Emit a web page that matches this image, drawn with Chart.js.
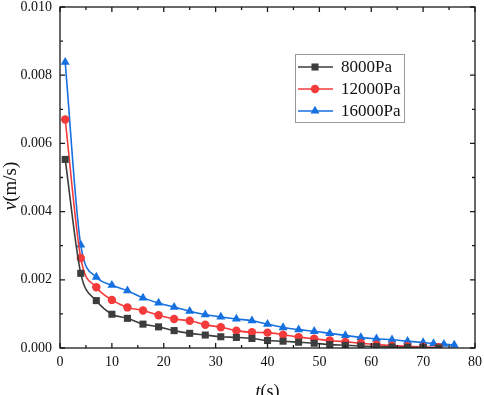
<!DOCTYPE html>
<html><head><meta charset="utf-8">
<script src="https://cdn.jsdelivr.net/npm/chart.js@4.4.0/dist/chart.umd.min.js"></script>
<style>html,body{margin:0;padding:0;background:#fff}#wrap{width:484px;height:395px}</style>
</head><body><div id="wrap"><canvas id="c" width="484" height="395"></canvas></div>
<script>
const seriesNames = ['8000Pa', '12000Pa', '16000Pa'];
const tBlack = [1,4,7,10,13,16,19,22,25,28,31,34,37,40,43,46,49,52,55,58,61,64,67,70,73];
const vBlack = [0.00553,0.00219,0.00139,0.00099,0.00087,0.00070,0.00062,0.00051,0.00043,0.00038,0.00033,0.00031,0.00028,0.00022,0.00020,0.00017,0.00014,0.00010,0.00008,0.00006,0.00004,0.00003,0.00002,0.00001,0.00000];
const tRed = [1,4,7,10,13,16,19,22,25,28,31,34,37,40,43,46,49,52,55,58,61,64,67,70,73];
const vRed = [0.00670,0.00264,0.00178,0.00141,0.00119,0.00110,0.00096,0.00085,0.00080,0.00068,0.00061,0.00051,0.00046,0.00045,0.00039,0.00032,0.00027,0.00022,0.00018,0.00014,0.00010,0.00007,0.00005,0.00003,0.00002];
const tBlue = [1,4,7,10,13,16,19,22,25,28,31,34,37,40,43,46,49,52,55,58,61,64,67,70,72,74,76];
const vBlue = [0.00838,0.00302,0.00208,0.00184,0.00168,0.00147,0.00132,0.00120,0.00108,0.00098,0.00091,0.00085,0.00080,0.00070,0.00060,0.00054,0.00049,0.00043,0.00037,0.00031,0.00027,0.00024,0.00020,0.00016,0.00013,0.00011,0.00009];
const xTicks = [0,10,20,30,40,50,60,70,80];
const xMinor = [5,15,25,35,45,55,65,75];
const yTicks = [0,0.002,0.004,0.006,0.008,0.010];
const yTickLabels = ['0.000','0.002','0.004','0.006','0.008','0.010'];
const yMinor = [0.001,0.003,0.005,0.007,0.009];

const colors = ['#3d3d3d', '#f43b3b', '#1570e0'];
const shapes = ['rect', 'circle', 'triangle'];
const radii = [5, 4.2, 5.2];
const serif = 'Liberation Serif';
Chart.defaults.font.family = serif;

function pts(ts, vs){ return ts.map((t,i)=>({x:t, y:vs[i]})); }
const allData = [pts(tBlack,vBlack), pts(tRed,vRed), pts(tBlue,vBlue)];

function marker(ctx, style, x, y, r){
  ctx.beginPath();
  if (style === 'rect') {
    const s = Math.SQRT1_2 * r;
    ctx.rect(x - s, y - s, 2*s, 2*s);
  } else if (style === 'circle') {
    ctx.arc(x, y, r, 0, Math.PI*2);
  } else {
    let a = 0;
    ctx.moveTo(x + Math.sin(a)*r, y - Math.cos(a)*r);
    a += 2*Math.PI/3;
    ctx.lineTo(x + Math.sin(a)*r, y - Math.cos(a)*r);
    a += 2*Math.PI/3;
    ctx.lineTo(x + Math.sin(a)*r, y - Math.cos(a)*r);
    ctx.closePath();
  }
  ctx.fill();
}

const framePlugin = {
  id: 'frame',
  afterDraw(chart){
    const ctx = chart.ctx, a = chart.chartArea;
    const xs = chart.scales.x, ys = chart.scales.y;
    ctx.save();
    ctx.strokeStyle = '#1a1a1a';
    ctx.lineWidth = 1.3;
    ctx.strokeRect(a.left, a.top, a.right - a.left, a.bottom - a.top);
    ctx.beginPath();
    const tick = (vals, len, horiz) => {
      vals.forEach(v => {
        if (horiz) {
          const px = xs.getPixelForValue(v);
          ctx.moveTo(px, a.bottom); ctx.lineTo(px, a.bottom - len);
          ctx.moveTo(px, a.top); ctx.lineTo(px, a.top + len);
        } else {
          const py = ys.getPixelForValue(v);
          ctx.moveTo(a.left, py); ctx.lineTo(a.left + len, py);
          ctx.moveTo(a.right, py); ctx.lineTo(a.right - len, py);
        }
      });
    };
    tick(xTicks, 5, true); tick(xMinor, 3, true);
    tick(yTicks, 5, false); tick(yMinor, 3, false);
    ctx.stroke();

    // legend
    const lx = 295, ly = 54, lw = 109, lh = 68;
    ctx.fillStyle = '#fff';
    ctx.fillRect(lx, ly, lw, lh);
    ctx.strokeStyle = '#9a9a9a';
    ctx.lineWidth = 1;
    ctx.strokeRect(lx + 0.5, ly + 0.5, lw, lh);
    const rows = [67, 89, 111];
    chart.data.datasets.forEach((ds, i) => {
      const y = rows[i];
      ctx.strokeStyle = ds.borderColor; ctx.lineWidth = 1.6;
      ctx.beginPath(); ctx.moveTo(298, y); ctx.lineTo(333, y); ctx.stroke();
      ctx.fillStyle = ds.pointBackgroundColor;
      marker(ctx, ds.pointStyle, 315, y, ds.pointRadius);
      ctx.fillStyle = '#111';
      ctx.font = '17px "' + serif + '"';
      ctx.textBaseline = 'middle';
      ctx.textAlign = 'left';
      ctx.fillText(ds.label, 341, y + 1);
    });

    // axis titles
    ctx.fillStyle = '#111';
    ctx.textBaseline = 'middle';
    let fi = 'italic 18px "' + serif + '"', fn = '18px "' + serif + '"';
    ctx.font = fi;
    const w1 = ctx.measureText('t').width;
    ctx.font = fn;
    const w2 = ctx.measureText('(s)').width;
    const cx = (a.left + a.right) / 2 - (w1 + w2) / 2;
    ctx.textAlign = 'left';
    ctx.font = fi;
    ctx.fillText('t', cx, 392);
    ctx.font = fn;
    ctx.fillText('(s)', cx + w1, 392);

    fi = 'italic 19px "' + serif + '"'; fn = '19px "' + serif + '"';
    ctx.save();
    ctx.translate(11, 186);
    ctx.rotate(-Math.PI/2);
    ctx.font = fi;
    const v1 = ctx.measureText('v').width;
    ctx.font = fn;
    const v2 = ctx.measureText('(m/s)').width;
    const sx = -(v1 + v2) / 2;
    ctx.font = fi;
    ctx.fillText('v', sx, 0);
    ctx.font = fn;
    ctx.fillText('(m/s)', sx + v1, 0);
    ctx.restore();
    ctx.restore();
  }
};

new Chart(document.getElementById('c'), {
  type: 'line',
  data: {
    datasets: allData.map((d, i) => ({
      label: seriesNames[i],
      data: d,
      borderColor: colors[i],
      backgroundColor: colors[i],
      pointBackgroundColor: colors[i],
      pointBorderColor: colors[i],
      pointBorderWidth: 0,
      pointStyle: shapes[i],
      pointRadius: radii[i],
      borderWidth: 1.6,
      cubicInterpolationMode: 'monotone',
      fill: false
    }))
  },
  options: {
    responsive: false,
    animation: false,
    layout: { padding: { top: 7, right: 9, left: 0, bottom: 0 } },
    plugins: { legend: { display: false }, tooltip: { enabled: false } },
    scales: {
      x: {
        type: 'linear', min: 0, max: 80,
        afterBuildTicks: s => { s.ticks = xTicks.map(v => ({ value: v })); },
        ticks: { font: { family: serif, size: 14 }, color: '#111', padding: 6, maxRotation: 0, autoSkip: false,
                 callback: v => String(v) },
        grid: { display: false, drawTicks: false },
        border: { display: false },
        afterFit: s => { s.height = 47; s.paddingLeft = 0; s.paddingRight = 0; }
      },
      y: {
        type: 'linear', min: 0, max: 0.010,
        afterBuildTicks: s => { s.ticks = yTicks.map(v => ({ value: v })); },
        ticks: { font: { family: serif, size: 14 }, color: '#111', padding: 8, autoSkip: false,
                 callback: (v) => { const i = yTicks.findIndex(t => Math.abs(t - v) < 1e-9); return i >= 0 ? yTickLabels[i] : ''; } },
        grid: { display: false, drawTicks: false },
        border: { display: false },
        afterFit: s => { s.width = 60; s.paddingTop = 0; s.paddingBottom = 0; }
      }
    }
  },
  plugins: [framePlugin]
});
</script>
</body></html>
